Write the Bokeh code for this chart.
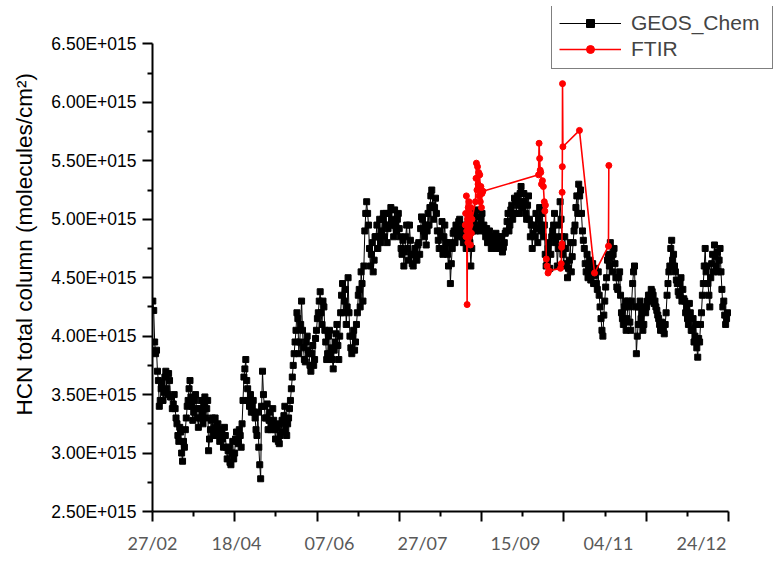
from bokeh.plotting import figure
from bokeh.models import (Range1d, FixedTicker, CustomJSTickFormatter, LinearAxis,
                          Legend, LegendItem, Title)
from bokeh.embed import file_html
from bokeh.resources import INLINE

# ---------------- data (HCN total column, units of 1e15 molecules/cm2) ----------------
SCALE = 1e15

# GEOS_Chem: twice-daily values, day index counted from 27/02 (day 0)
geos_start_day = 5
geos_values_00h = [
    4.30, 3.95, 3.88, 3.62, 3.45,  3.60, 3.52, 3.70, 3.50, 3.62,
    3.48, 3.42, 3.38, 3.25, 3.10,  3.18, 2.93, 3.05, 3.30, 3.45,
    3.62, 3.40, 3.35, 3.50, 3.30,  3.38, 3.45, 3.25, 3.48, 3.38,
    3.02, 3.20, 3.30, 3.22, 3.15,  3.25, 3.10, 3.20, 3.05, 3.15,
    2.95, 3.05, 2.90, 3.10, 3.00,  3.18, 3.08, 3.15, 3.25, 3.65,
    3.80, 3.55, 3.40, 3.35, 3.45,  3.30, 3.15, 3.05, 2.78, 3.70,
    3.40, 3.30, 3.20, 3.35, 3.25,  3.28, 3.12, 3.22, 3.08, 3.18,
    3.25, 3.40, 3.15, 3.30, 3.45,  3.65, 3.85, 4.05, 4.15, 3.95,
    4.30, 3.90, 3.78, 4.00, 3.85,  3.70, 3.92, 3.80, 4.05, 4.20,
    4.38, 4.10, 4.25, 3.95, 3.85,  4.05, 3.90, 3.72, 3.95, 4.10,
    3.80, 4.20, 4.45, 4.30, 4.10,  4.50, 4.00, 3.85, 4.05, 3.95,
    4.20, 4.40, 4.55, 4.30, 4.90,  5.15, 4.95, 4.60, 4.80, 4.65,
    4.85, 4.75, 5.00, 4.90, 5.05,  4.95, 4.80, 5.05, 5.10, 4.95,
    5.08, 4.90, 5.05, 4.85, 4.70,  4.60, 4.85, 4.75, 4.95, 4.70,
    4.60, 4.75, 4.65, 4.80, 4.92,  5.00, 4.85, 4.78, 5.05, 5.10,
    5.25, 5.00, 5.18, 4.90, 4.75,  4.85, 4.70, 4.95, 4.80, 4.60,
    4.45, 4.75, 4.90, 4.95, 4.85,  5.00, 4.92, 4.80, 4.85, 4.95,
    5.00, 4.60, 4.90, 5.05, 4.95,  5.02, 4.90, 5.05, 4.95, 4.85,
    4.80, 4.90, 4.75, 4.85, 4.80,  4.75, 4.85, 4.78, 4.72, 4.80,
    4.90, 5.05, 4.95, 5.12, 5.05,  5.15, 5.20, 5.05, 5.28, 5.10,
    5.15, 5.00, 5.20, 4.85, 4.75,  4.95, 5.05, 4.80, 5.10, 4.90,
    4.85, 4.70, 4.65, 4.80, 4.70,  4.90, 5.05, 4.85, 4.75, 5.15,
    4.85, 4.60, 4.75, 4.50, 4.65,  4.55, 4.80, 4.95, 5.20, 5.30,
    5.25, 4.90, 4.75, 4.55, 4.50,  4.65, 4.55, 4.45, 4.58, 4.40,
    4.35, 4.15, 4.00, 4.30, 4.50,  4.70, 4.80, 4.55, 4.75, 4.50,
    4.40, 4.55, 4.20, 4.10, 4.30,  4.15, 4.25, 4.05, 4.45, 4.60,
    3.85, 4.10, 4.30, 4.20, 4.10,  4.20, 4.30, 4.35, 4.40, 4.35,
    4.30, 4.22, 4.15, 4.05, 4.10,  4.02, 4.20, 4.45, 4.60, 4.82,
    4.70, 4.55, 4.45, 4.35, 4.50,  4.40, 4.30, 4.25, 4.10, 4.20,
    4.05, 3.95, 4.10, 3.82, 3.95,  4.20, 4.45, 4.75, 4.60, 4.35,
    4.50, 4.70, 4.78, 4.60, 4.55,  4.75, 4.40, 4.30, 4.10, 4.20,
]
geos_values_12h = [
    4.22, 3.85, 3.70, 3.40, 3.55,  3.45, 3.65, 3.55, 3.68, 3.48,
    3.38, 3.50, 3.30, 3.15, 3.22,  3.00, 3.10, 3.20, 3.40, 3.55,
    3.48, 3.28, 3.45, 3.38, 3.22,  3.30, 3.35, 3.40, 3.30, 3.45,
    3.12, 3.28, 3.15, 3.30, 3.20,  3.18, 3.15, 3.12, 3.22, 3.05,
    3.02, 2.92, 3.00, 2.95, 3.12,  3.10, 3.20, 3.05, 3.45, 3.72,
    3.62, 3.45, 3.50, 3.40, 3.35,  3.20, 3.35, 2.90, 3.40, 3.50,
    3.30, 3.42, 3.28, 3.20, 3.38,  3.20, 3.25, 3.10, 3.15, 3.28,
    3.32, 3.20, 3.25, 3.38, 3.55,  3.75, 3.95, 4.20, 3.85, 4.10,
    4.05, 3.80, 3.95, 3.88, 3.75,  3.85, 3.75, 3.98, 4.15, 4.30,
    4.20, 4.30, 4.05, 3.80, 4.00,  3.85, 3.80, 3.88, 4.02, 3.92,
    4.00, 4.35, 4.20, 4.40, 4.25,  4.20, 3.90, 4.00, 3.88, 4.10,
    4.35, 4.25, 4.45, 4.60, 5.05,  5.05, 4.75, 4.70, 4.55, 4.85,
    4.95, 4.85, 4.80, 5.00, 4.85,  5.05, 4.92, 4.95, 5.00, 4.85,
    4.95, 5.00, 4.92, 4.75, 4.82,  4.72, 4.95, 4.65, 4.82, 4.62,
    4.70, 4.68, 4.78, 4.70, 5.02,  4.90, 4.95, 4.90, 4.95, 5.20,
    5.12, 5.10, 5.05, 4.82, 4.90,  4.98, 4.85, 4.75, 4.70, 4.80,
    4.62, 4.88, 4.80, 4.90, 4.98,  4.88, 4.85, 4.95, 4.75, 4.88,
    4.80, 4.75, 5.00, 4.90, 5.08,  4.95, 5.00, 4.92, 4.90, 4.92,
    4.85, 4.82, 4.80, 4.78, 4.88,  4.82, 4.75, 4.85, 4.76, 4.88,
    4.98, 4.90, 5.08, 5.00, 5.18,  5.05, 5.12, 5.22, 5.15, 5.22,
    5.05, 5.12, 5.00, 4.95, 4.88,  4.85, 4.92, 5.00, 4.95, 5.05,
    4.95, 4.60, 4.75, 4.58, 4.85,  4.95, 4.80, 4.60, 4.95, 5.00,
    4.70, 4.85, 4.62, 4.58, 4.80,  4.68, 4.90, 5.10, 5.05, 5.20,
    5.05, 4.82, 4.62, 4.70, 4.60,  4.48, 4.62, 4.52, 4.45, 4.55,
    4.25, 4.05, 4.18, 4.42, 4.65,  4.60, 4.68, 4.70, 4.62, 4.42,
    4.50, 4.35, 4.15, 4.25, 4.05,  4.30, 4.12, 4.30, 4.55, 4.25,
    4.00, 4.25, 4.15, 4.05, 4.25,  4.25, 4.35, 4.30, 4.38, 4.28,
    4.25, 4.18, 4.10, 4.12, 4.05,  4.10, 4.35, 4.55, 4.75, 4.65,
    4.60, 4.48, 4.38, 4.45, 4.30,  4.32, 4.20, 4.15, 4.28, 4.05,
    4.15, 4.00, 3.90, 3.98, 4.10,  4.35, 4.60, 4.55, 4.45, 4.25,
    4.62, 4.55, 4.68, 4.72, 4.65,  4.55, 4.25, 4.18, 4.15,
]

# FTIR measurements (day index from 27/02, value)
ftir_days = [
    173.0, 173.2, 173.4, 173.6, 173.8, 174.0, 174.2, 174.4, 174.6, 174.8,
    175.0, 175.2, 175.4, 175.6, 175.8, 176.0, 176.3, 176.6,
    178.5, 178.8, 179.0, 179.3, 179.6, 179.9, 180.2, 180.5, 180.8, 181.1,
    181.4, 181.7, 182.0, 182.5,
    212.4, 212.7, 213.0, 213.3, 213.6, 214.0, 214.5, 215.0, 215.5, 215.8,
    216.1, 216.6, 217.0, 217.5, 218.0,
    224.2, 224.6, 224.8, 225.0, 225.1, 225.2, 225.3, 225.5,
    234.4, 242.5, 250.0, 250.2,
]
ftir_values = [
    4.95, 5.05, 4.85, 5.20, 4.90, 4.27, 5.00, 4.80, 5.10, 4.92,
    5.15, 4.85, 5.05, 4.95, 4.78, 5.10, 4.88, 5.00,
    5.15, 5.35, 5.48, 5.25, 5.45, 5.30, 5.40, 5.20, 5.38, 5.15,
    5.28, 5.10, 5.22, 5.24,
    5.38, 5.65, 5.52, 5.42, 5.40, 5.30, 5.33, 5.28, 5.15, 5.07,
    5.12, 4.66, 4.60, 4.54, 4.56,
    4.58, 4.62, 4.76, 4.79, 5.23, 5.45, 6.16, 5.62,
    5.76, 4.54, 4.77, 5.46,
]

# axis ticks / labels
date_labels = ["27/02", "18/04", "07/06", "27/07", "15/09", "04/11", "24/12"]
date_label_days = [0, 50, 100, 150, 200, 250, 300]
y_tick_values = [2.5, 3.0, 3.5, 4.0, 4.5, 5.0, 5.5, 6.0, 6.5]
x_axis_start, x_axis_end = 4.84, 314.5   # extent of the drawn x axis (days)
x_view_end = 342.5                        # view extends right (room for legend)
y_view_top = 6.82                         # view extends above (room for legend)
n_x_intervals = 7

# interleave the two daily samples into one time series
geos_days, geos_values = [], []
for i, v in enumerate(geos_values_00h):
    geos_days.append(geos_start_day + i)
    geos_values.append(v)
    if i < len(geos_values_12h):
        geos_days.append(geos_start_day + i + 0.5)
        geos_values.append(geos_values_12h[i])

# ---------------- figure ----------------
p = figure(width=780, height=565, output_backend="svg", toolbar_location=None,
           x_range=Range1d(x_axis_start, x_view_end),
           y_range=Range1d(y_tick_values[0] * SCALE, y_view_top * SCALE))
p.min_border_left = 152
p.min_border_right = 0
p.min_border_top = 6
p.min_border_bottom = 54
p.outline_line_color = None
p.xgrid.visible = False
p.ygrid.visible = False
p.background_fill_color = "white"
p.border_fill_color = "white"

gy = [v * SCALE for v in geos_values]
fy = [v * SCALE for v in ftir_values]

g_line = p.line(geos_days, gy, line_color="black", line_width=1)
g_pts = p.scatter(geos_days, gy, marker="square", size=6, fill_color="black", line_color="black")
f_line = p.line(ftir_days, fy, line_color="#ff0000", line_width=1.6)
f_pts = p.scatter(ftir_days, fy, marker="circle", size=6, fill_color="#ff0000", line_color="#ff0000")

# ticks
step = (x_axis_end - x_axis_start) / n_x_intervals
x_major = [x_axis_start + i * step for i in range(n_x_intervals + 1)]
x_minor = [x_axis_start + (i + 0.5) * step for i in range(n_x_intervals)]
y_major = [v * SCALE for v in y_tick_values]
y_minor = [(a + b) / 2 * SCALE for a, b in zip(y_tick_values[:-1], y_tick_values[1:])]

yax = p.yaxis[0]
yax.bounds = (y_major[0], y_major[-1])
yax.ticker = FixedTicker(ticks=y_major, minor_ticks=y_minor)
yax.formatter = CustomJSTickFormatter(code="return (tick/1e15).toFixed(2) + 'E+015';")
yax.major_label_text_font = "Liberation Sans"
yax.major_label_text_font_size = "17.5px"
yax.major_label_text_color = "black"
yax.major_label_standoff = 6
for ax in (yax, p.xaxis[0]):
    ax.axis_line_width = 2
    ax.major_tick_line_width = 2
    ax.minor_tick_line_width = 2
    ax.major_tick_out = 10
    ax.major_tick_in = 0
    ax.minor_tick_out = 5
    ax.minor_tick_in = 0

xax = p.xaxis[0]
xax.bounds = (x_axis_start, x_axis_end)
xax.ticker = FixedTicker(ticks=x_major, minor_ticks=x_minor)
xax.formatter = CustomJSTickFormatter(code="return '';")
xax.major_label_standoff = 0

# date labels: a second, tick-less axis below
label_pos = [max(d, x_axis_start) for d in date_label_days]
lab_axis = LinearAxis(ticker=FixedTicker(ticks=label_pos),
                      major_label_overrides={pos: lab for pos, lab in zip(label_pos, date_labels)},
                      bounds=(x_axis_start, x_axis_end))
lab_axis.axis_line_color = None
lab_axis.major_tick_line_color = None
lab_axis.minor_tick_line_color = None
lab_axis.major_tick_out = 0
lab_axis.major_tick_in = 0
lab_axis.minor_tick_out = 0
lab_axis.minor_tick_in = 0
lab_axis.major_label_standoff = 10
lab_axis.major_label_text_font = "Lato"
lab_axis.major_label_text_font_size = "18px"
lab_axis.major_label_text_color = "#595959"
p.add_layout(lab_axis, "below")

# y axis title (starts ~96 px above the bottom of the frame)
ytitle = Title(text="HCN total column (molecules/cm\u00b2)", align="left", offset=96,
               vertical_align="top",
               text_font="Liberation Sans", text_font_size="22.5px",
               text_font_style="normal", text_color="black", standoff=20)
p.add_layout(ytitle, "left")

legend = Legend(items=[LegendItem(label="GEOS_Chem", renderers=[g_line, g_pts]),
                       LegendItem(label="FTIR", renderers=[f_line, f_pts])],
                location=(399, 442))
legend.label_text_font = "Liberation Sans"
legend.label_text_font_size = "21px"
legend.glyph_width = 62
legend.glyph_height = 20
legend.label_standoff = 10
legend.label_width = 134
legend.padding = 7
legend.spacing = 2
legend.margin = 0
legend.border_line_color = "black"
legend.border_line_width = 1.5
legend.background_fill_color = "white"
legend.background_fill_alpha = 1
p.add_layout(legend, "center")

open("out.html", "w").write(file_html(p, INLINE))
